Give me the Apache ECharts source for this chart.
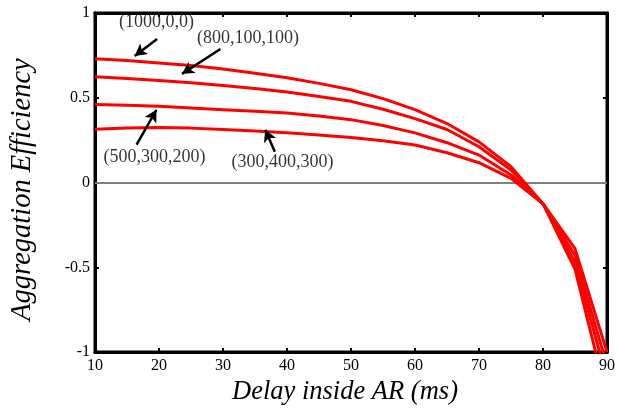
<!DOCTYPE html>
<html>
<head>
<meta charset="utf-8">
<script src="https://cdn.jsdelivr.net/npm/echarts@6/dist/echarts.min.js"></script>
<style>
  html, body { margin: 0; padding: 0; background: #fff; }
  #chart { width: 618px; height: 411px; }
</style>
</head>
<body>
<div id="chart"></div>
<script>
// Delay inside the AR (ms)
const delays = [10, 15, 20, 25, 30, 35, 40, 45, 50, 55, 60, 65, 70, 75, 80, 85, 90];

// Aggregation efficiency for each traffic mix
const eff1000_0_0 =   [0.730, 0.720, 0.705, 0.690, 0.670, 0.645, 0.618, 0.585, 0.547, 0.495, 0.430, 0.348, 0.240, 0.094, -0.125, -0.51, -1.27];
const eff800_100_100 = [0.624, 0.614, 0.602, 0.589, 0.573, 0.555, 0.534, 0.508, 0.479, 0.432, 0.377, 0.313, 0.211, 0.074, -0.125, -0.47, -1.16];
const eff500_300_200 = [0.461, 0.456, 0.450, 0.440, 0.430, 0.420, 0.410, 0.392, 0.371, 0.336, 0.293, 0.235, 0.162, 0.045, -0.125, -0.43, -1.08];
const eff300_400_300 = [0.315, 0.322, 0.325, 0.321, 0.313, 0.304, 0.293, 0.281, 0.266, 0.246, 0.221, 0.176, 0.117, 0.025, -0.125, -0.39, -1.00];

const seriesNames = ['(1000,0,0)', '(800,100,100)', '(500,300,200)', '(300,400,300)'];
const seriesValues = [eff1000_0_0, eff800_100_100, eff500_300_200, eff300_400_300];

// Callout text placement and arrows (data coordinates: [delay, efficiency])
const calloutText = [[19.6, 0.945], [33.9, 0.853], [19.3, 0.152], [39.3, 0.117]];
const arrowFrom = [[19.7, 0.847], [29.6, 0.788], [16.5, 0.224], [38.1, 0.182]];
const arrowTo   = [[16.2, 0.747], [23.6, 0.641], [19.6, 0.429], [36.6, 0.312]];

const yTicks = [-1, -0.5, 0, 0.5, 1];

const serif = '"Liberation Serif", "DejaVu Serif", serif';
const chart = echarts.init(document.getElementById('chart'), null, { renderer: 'canvas' });

const lineSeries = seriesValues.map((vals, i) => ({
  name: seriesNames[i],
  type: 'line',
  data: delays.map((d, j) => [d, vals[j]]),
  showSymbol: false,
  symbol: 'none',
  clip: true,
  lineStyle: { color: '#ff0000', width: 3 },
  z: 3,
  silent: true
}));

// Zero reference line
lineSeries[0].markLine = {
  silent: true,
  symbol: ['none', 'none'],
  label: { show: false },
  lineStyle: { color: '#808080', width: 2, type: 'solid' },
  data: [{ yAxis: 0 }],
  z: 1
};

// Arrows pointing at the curves
const arrowSeries = {
  type: 'line',
  data: [],
  silent: true,
  markLine: {
    silent: true,
    symbol: ['none', 'arrow'],
    symbolSize: [10, 12],
    label: { show: false },
    lineStyle: { color: '#000', width: 2.5, type: 'solid' },
    data: arrowFrom.map((p, i) => [{ coord: p }, { coord: arrowTo[i] }])
  }
};

// Curve labels
const labelSeries = {
  type: 'scatter',
  symbolSize: 0,
  silent: true,
  data: calloutText.map((p, i) => ({ value: p, name: seriesNames[i] })),
  label: {
    show: true,
    position: 'inside',
    formatter: p => p.name,
    color: '#000',
    fontFamily: serif,
    fontSize: 18
  }
};

const frameAxis = {
  axisLine: { show: true, onZero: false, lineStyle: { color: '#000', width: 3 } },
  axisTick: { show: true, inside: true, length: 4, lineStyle: { color: '#000', width: 2 } },
  splitLine: { show: false }
};

chart.setOption({
  animation: false,
  backgroundColor: '#fff',
  grid: {
    left: 95, right: 5, top: 13, bottom: 58,
    show: true, borderColor: '#000', borderWidth: 3, backgroundColor: 'transparent'
  },
  xAxis: [Object.assign({
    type: 'value', min: 10, max: 90, interval: 10,
    name: 'Delay inside AR (ms)', nameLocation: 'middle', nameGap: 25,
    nameTextStyle: { fontFamily: serif, fontStyle: 'italic', fontSize: 26.5, color: '#000', padding: [0, 12, 0, 0] },
    axisLabel: { fontFamily: serif, fontSize: 16, color: '#000', margin: 6 }
  }, frameAxis), Object.assign({
    type: 'value', min: 10, max: 90, interval: 10, position: 'top',
    axisLabel: { show: false }
  }, frameAxis)],
  yAxis: [Object.assign({
    type: 'value', min: yTicks[0], max: yTicks[yTicks.length - 1], interval: 0.5,
    name: 'Aggregation Efficiency', nameLocation: 'middle', nameGap: 58,
    nameTextStyle: { fontFamily: serif, fontStyle: 'italic', fontSize: 28.5, color: '#000', padding: [0, 14, 0, 0] },
    axisLabel: { fontFamily: serif, fontSize: 16, color: '#000', margin: 5 }
  }, frameAxis), Object.assign({
    type: 'value', min: yTicks[0], max: yTicks[yTicks.length - 1], interval: 0.5, position: 'right',
    axisLabel: { show: false }
  }, frameAxis)],
  series: [...lineSeries, arrowSeries, labelSeries]
});
</script>
</body>
</html>
